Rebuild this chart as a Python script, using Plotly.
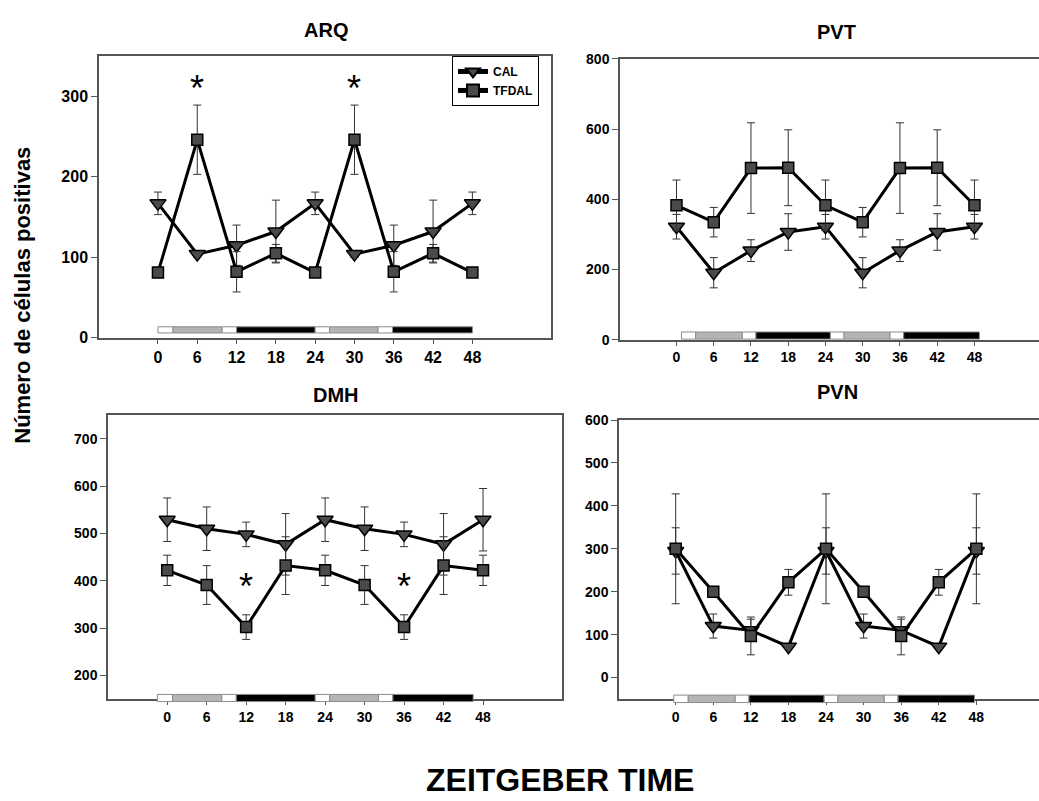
import plotly.graph_objects as go

# Zeitgeber time (h)
zt = [0, 6, 12, 18, 24, 30, 36, 42, 48]

# ARQ
arq_cal = [167, 104, 115, 132, 167, 104, 115, 132, 167]
arq_cal_err = [14, 4, 25, 39, 14, 4, 25, 39, 14]
arq_tfdal = [81, 246, 82, 105, 81, 246, 82, 105, 81]
arq_tfdal_err = [4, 43, 25, 11, 4, 43, 25, 11, 4]
arq_stars_x = [6, 30]
arq_stars_y = [310, 310]

# PVT
pvt_cal = [322, 191, 254, 307, 322, 191, 254, 307, 322]
pvt_cal_err = [35, 43, 31, 52, 35, 43, 31, 52, 35]
pvt_tfdal = [383, 335, 489, 490, 383, 335, 489, 490, 383]
pvt_tfdal_err = [72, 42, 129, 108, 72, 42, 129, 108, 72]

# DMH
dmh_cal = [529, 510, 498, 477, 529, 510, 498, 477, 529]
dmh_cal_err = [46, 46, 26, 65, 46, 46, 26, 65, 66]
dmh_tfdal = [422, 391, 302, 432, 422, 391, 302, 432, 422]
dmh_tfdal_err = [32, 41, 26, 61, 32, 41, 26, 61, 32]
dmh_stars_x = [12, 36]
dmh_stars_y = [388, 388]

# PVN
pvn_cal = [295, 120, 110, 72, 295, 120, 110, 72, 295]
pvn_cal_err = [54, 28, 26, 4, 54, 28, 26, 4, 54]
pvn_tfdal = [300, 200, 97, 222, 300, 200, 97, 222, 300]
pvn_tfdal_err = [128, 6, 44, 30, 128, 6, 44, 30, 128]

# light / dark phase strip
phase_edges = [0, 2.3, 9.8, 12, 24, 26.2, 33.6, 35.8, 48]
phase_fill = ["white", "#b4b4b4", "white", "black", "white", "#b4b4b4", "white", "black"]

W, H = 1039, 801
FONT = "Liberation Sans, Arial, sans-serif"
AXC = "#555555"

panels = [
    dict(title="ARQ", cal=arq_cal, cal_err=arq_cal_err, tf=arq_tfdal, tf_err=arq_tfdal_err,
         stars=(arq_stars_x, arq_stars_y), px=(99, 551), py=(49, 337), xr=[-9, 60],
         yr=[0, 350], yt=[0, 100, 200, 300], fs=16, right=True,
         shift=0.0, strip=(5, 11.3), title_xy=(326, 22)),
    dict(title="PVT", cal=pvt_cal, cal_err=pvt_cal_err, tf=pvt_tfdal, tf_err=pvt_tfdal_err,
         stars=None, px=(620, 1039), py=(52, 339), xr=[-9.1, 58.4],
         yr=[0, 800], yt=[0, 200, 400, 600, 800], fs=14, right=False,
         shift=0.8, strip=(0.7, 8), title_xy=(836, 25)),
    dict(title="DMH", cal=dmh_cal, cal_err=dmh_cal_err, tf=dmh_tfdal, tf_err=dmh_tfdal_err,
         stars=(dmh_stars_x, dmh_stars_y), px=(108, 562), py=(416, 706), xr=[-9, 60],
         yr=[150, 750], yt=[200, 300, 400, 500, 600, 700], fs=14, right=True,
         shift=-1.5, strip=(-2.6, 4.7), title_xy=(336, 395)),
    dict(title="PVN", cal=pvn_cal, cal_err=pvn_cal_err, tf=pvn_tfdal, tf_err=pvn_tfdal_err,
         stars=None, px=(619, 1039), py=(421, 706), xr=[-9.05, 58],
         yr=[-50, 600], yt=[0, 100, 200, 300, 400, 500, 600], fs=14, right=False,
         shift=-0.3, strip=(-3.6, 4), title_xy=(837, 392)),
]

fig = go.Figure()
layout = {}
shapes = []
annotations = []

for i, p in enumerate(panels, start=1):
    xa = "x" if i == 1 else f"x{i}"
    ya = "y" if i == 1 else f"y{i}"
    xkey = "xaxis" if i == 1 else f"xaxis{i}"
    ykey = "yaxis" if i == 1 else f"yaxis{i}"
    dom_x = [p["px"][0] / W, min(p["px"][1] / W, 1.0)]
    dom_y = [1 - p["py"][1] / H, 1 - p["py"][0] / H]
    h_px = p["py"][1] - p["py"][0]

    layout[xkey] = dict(
        domain=dom_x, anchor=ya, range=p["xr"], tickvals=zt, ticktext=[str(v) for v in zt],
        ticks="outside", ticklen=4, tickwidth=1, tickcolor=AXC,
        showline=True, linecolor=AXC, linewidth=1.5, mirror=True,
        showgrid=False, zeroline=False,
        tickfont=dict(family=FONT, size=p["fs"], color="black", weight="bold"),
    )
    layout[ykey] = dict(
        domain=dom_y, anchor=xa, range=p["yr"], tickvals=p["yt"],
        ticks="outside", ticklen=6, tickwidth=1, tickcolor=AXC,
        showline=True, linecolor=AXC, linewidth=1.5, mirror=p["right"],
        showgrid=False, zeroline=False,
        tickfont=dict(family=FONT, size=p["fs"], color="black", weight="bold"),
    )

    # light/dark strip along the time axis
    y0 = p["strip"][0] / h_px
    y1 = p["strip"][1] / h_px
    for a, b, c in zip(phase_edges[:-1], phase_edges[1:], phase_fill):
        shapes.append(dict(type="rect", xref=xa, yref=f"{ya} domain",
                           x0=a + p["shift"], x1=b + p["shift"], y0=y0, y1=y1,
                           fillcolor=c, line=dict(color="#8c8c8c", width=1), layer="above"))

    for name, vals, errs, sym, size in [
        ("CAL", p["cal"], p["cal_err"], "triangle-down", 14),
        ("TFDAL", p["tf"], p["tf_err"], "square", 11),
    ]:
        fig.add_trace(go.Scatter(
            x=zt, y=vals, xaxis=xa, yaxis=ya, name=name, mode="lines+markers",
            showlegend=(i == 1), legendgroup=name,
            line=dict(color="black", width=3),
            marker=dict(symbol=sym, size=size, color="#4a4a4a",
                        line=dict(color="black", width=1.5)),
            error_y=dict(type="data", array=errs, visible=True, color="#333333",
                         thickness=1, width=4),
        ))

    if p["stars"]:
        for sx, sy in zip(*p["stars"]):
            annotations.append(dict(x=sx, y=sy, xref=xa, yref=ya, text="*", showarrow=False,
                                    font=dict(family=FONT, size=36, color="black"),
                                    xanchor="center", yanchor="middle"))

    annotations.append(dict(x=p["title_xy"][0] / W, y=1 - p["title_xy"][1] / H,
                            xref="paper", yref="paper", text="<b>" + p["title"] + "</b>",
                            showarrow=False, xanchor="center", yanchor="middle",
                            font=dict(family=FONT, size=20, color="black")))

annotations.append(dict(x=23 / W, y=1 - 294 / H, xref="paper", yref="paper",
                        text="<b>Número de células positivas</b>", textangle=-90,
                        showarrow=False, xanchor="center", yanchor="middle",
                        font=dict(family=FONT, size=22, color="black")))
annotations.append(dict(x=560 / W, y=1 - 789 / H, xref="paper", yref="paper",
                        text="<b>ZEITGEBER TIME</b>", showarrow=False,
                        xanchor="center", yanchor="middle",
                        font=dict(family=FONT, size=32, color="black")))

fig.update_layout(
    width=W, height=H, margin=dict(l=0, r=0, t=0, b=0),
    paper_bgcolor="white", plot_bgcolor="white",
    shapes=shapes, annotations=annotations,
    legend=dict(x=452 / W, y=1 - 49 / H, xanchor="left", yanchor="top",
                bgcolor="white", bordercolor="black", borderwidth=1,
                font=dict(family=FONT, size=12, color="black", weight="bold"),
                itemsizing="constant", tracegroupgap=0),
    **layout,
)

fig.write_html("out.html")
